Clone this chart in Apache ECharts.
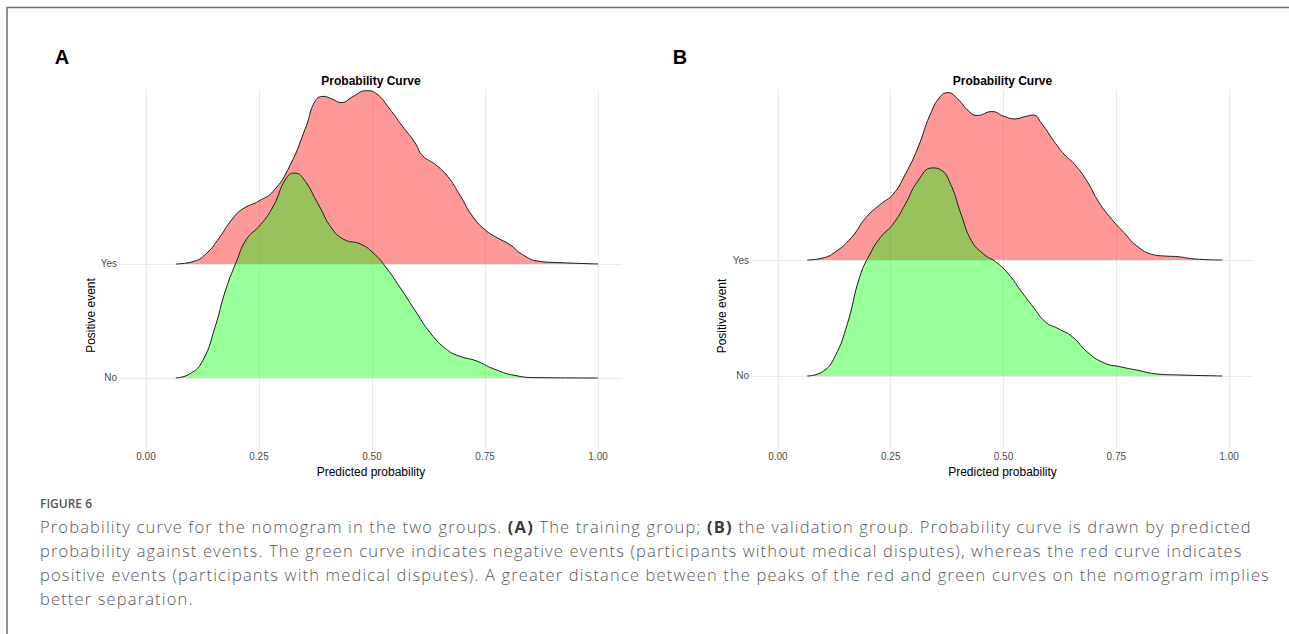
<!DOCTYPE html>
<html>
<head>
<meta charset="utf-8">
<script src="https://cdn.jsdelivr.net/npm/echarts@6/dist/echarts.min.js"></script>
<style>
  html, body { margin: 0; padding: 0; background: #ffffff; }
  #wrap { position: relative; width: 1289px; height: 634px; overflow: hidden; }
  #chart { position: absolute; left: 0; top: 0; width: 1289px; height: 634px; }
  #caption {
    position: absolute; left: 40px; top: 515px;
    font-family: 'Open Sans', 'Noto Sans', sans-serif;
    font-size: 16.5px; font-weight: 300; letter-spacing: 1.15px;
    line-height: 24px; color: #595959; white-space: nowrap;
  }
  #caption b { font-weight: 700; color: #3a3a3a; }
</style>
</head>
<body>
<div id="wrap">
  <div id="chart"></div>
  <div id="caption"></div>
</div>
<script>
// Ridge labels (bottom to top) and x tick positions
const groupNames = ['No', 'Yes'];
const xTicks = [0, 0.25, 0.5, 0.75, 1];

// Density heights [predicted probability, ridge height] — training group
const trainingYes = [
  [0.066, 0], [0.107, 0.024], [0.135, 0.097], [0.162, 0.229], [0.19, 0.39],
  [0.213, 0.48], [0.25, 0.553], [0.282, 0.64], [0.318, 0.86], [0.355, 1.215],
  [0.373, 1.42], [0.392, 1.47], [0.41, 1.45], [0.433, 1.415], [0.456, 1.465],
  [0.488, 1.52], [0.511, 1.49], [0.539, 1.36], [0.566, 1.215], [0.594, 1.07],
  [0.612, 0.95], [0.639, 0.876], [0.667, 0.77], [0.695, 0.6], [0.722, 0.42],
  [0.75, 0.30], [0.777, 0.23], [0.805, 0.17], [0.833, 0.082], [0.869, 0.024],
  [0.915, 0.012], [1.0, 0]
];
const trainingNo = [
  [0.066, 0], [0.098, 0.038], [0.126, 0.156], [0.153, 0.45], [0.176, 0.77],
  [0.199, 1.01], [0.222, 1.215], [0.254, 1.347], [0.282, 1.51], [0.309, 1.744],
  [0.328, 1.797], [0.346, 1.76], [0.383, 1.51], [0.41, 1.318], [0.438, 1.215],
  [0.474, 1.176], [0.502, 1.1], [0.529, 0.98], [0.566, 0.77], [0.594, 0.6],
  [0.63, 0.39], [0.667, 0.244], [0.695, 0.19], [0.731, 0.15], [0.768, 0.082],
  [0.814, 0.024], [0.869, 0.003], [1.0, 0]
];

// Density heights — validation group
const validationYes = [
  [0.065, 0], [0.099, 0.017], [0.126, 0.066], [0.163, 0.194], [0.195, 0.366],
  [0.227, 0.48], [0.255, 0.566], [0.282, 0.737], [0.31, 0.966], [0.337, 1.25],
  [0.36, 1.41], [0.378, 1.443], [0.397, 1.394], [0.424, 1.28], [0.442, 1.246],
  [0.474, 1.28], [0.502, 1.237], [0.525, 1.217], [0.548, 1.237], [0.566, 1.25],
  [0.584, 1.18], [0.612, 1.023], [0.635, 0.909], [0.658, 0.823], [0.685, 0.68],
  [0.712, 0.494], [0.74, 0.351], [0.767, 0.237], [0.795, 0.123], [0.832, 0.046],
  [0.859, 0.034], [0.886, 0.029], [0.923, 0.009], [0.985, 0]
];
const validationNo = [
  [0.065, 0], [0.099, 0.037], [0.126, 0.166], [0.154, 0.451], [0.181, 0.851],
  [0.204, 1.051], [0.227, 1.194], [0.255, 1.309], [0.282, 1.48], [0.31, 1.68],
  [0.342, 1.794], [0.36, 1.78], [0.383, 1.651], [0.406, 1.394], [0.429, 1.166],
  [0.456, 1.051], [0.484, 0.98], [0.511, 0.88], [0.538, 0.737], [0.566, 0.594],
  [0.593, 0.466], [0.621, 0.409], [0.653, 0.337], [0.685, 0.209], [0.722, 0.114],
  [0.758, 0.08], [0.795, 0.051], [0.841, 0.017], [0.886, 0.009], [0.985, 0]
];

const captionLines = [
  'Probability curve for the nomogram in the two groups. <b>(A)</b> The training group; <b>(B)</b> the validation group. Probability curve is drawn by predicted',
  'probability against events. The green curve indicates negative events (participants without medical disputes), whereas the red curve indicates',
  'positive events (participants with medical disputes). A greater distance between the peaks of the red and green curves on the nomogram implies',
  'better separation.'
];
document.getElementById('caption').innerHTML =
  captionLines.map(l => '<div>' + l + '</div>').join('');

const FONT = 'Liberation Sans, Arial, Helvetica, sans-serif';
const CAPFONT = 'Open Sans, Noto Sans, sans-serif';
const GRID_COLOR = '#ebebeb';

function ridge(points, base, fill, idx) {
  return {
    type: 'line',
    xAxisIndex: idx,
    yAxisIndex: idx,
    data: points.map(p => [p[0], base + p[1]]),
    smooth: 0.5,
    symbol: 'none',
    silent: true,
    lineStyle: { color: '#1a1a1a', width: 1 },
    areaStyle: { color: fill, opacity: 1, origin: base }
  };
}

function xAxisFor(idx) {
  return {
    type: 'value',
    gridIndex: idx,
    min: -0.0575,
    max: 1.053,
    name: 'Predicted probability',
    nameLocation: 'middle',
    nameGap: 18,
    nameTextStyle: { fontFamily: FONT, fontSize: 12, color: '#000' },
    axisLine: { show: false },
    axisTick: { show: false, customValues: xTicks },
    axisLabel: {
      customValues: xTicks,
      formatter: v => v.toFixed(2),
      fontFamily: FONT, fontSize: 10, color: '#4d4d4d', margin: 3
    },
    splitLine: { show: true, lineStyle: { color: GRID_COLOR, width: 1 } }
  };
}

function yAxisFor(idx, min, max) {
  return {
    type: 'value',
    gridIndex: idx,
    min: min,
    max: max,
    axisLine: { show: false },
    axisTick: { show: false, customValues: [1, 2] },
    axisLabel: {
      customValues: [1, 2],
      formatter: v => groupNames[Math.round(v) - 1],
      fontFamily: FONT, fontSize: 10, color: '#4d4d4d', margin: 3,
      verticalAlign: 'middle', padding: [0, 0, 6, 0]
    },
    splitLine: { show: true, lineStyle: { color: GRID_COLOR, width: 1 } }
  };
}

function label(text, x, y, size, weight, extra) {
  return Object.assign({
    type: 'text', x: x, y: y, silent: true,
    style: {
      text: text, fontFamily: FONT, fontSize: size, fontWeight: weight,
      fill: '#000', align: 'center', verticalAlign: 'middle'
    }
  }, extra || {});
}

const graphics = [
  { type: 'polyline', silent: true,
    shape: { points: [[7, 634], [7, 7.5], [1289, 7.5]] },
    style: { stroke: '#6e6e6e', lineWidth: 1.5, fill: null } },
  label('A', 62, 56.5, 20, 'bold'),
  label('B', 680, 56.5, 20, 'bold'),
  label('Probability Curve', 371, 80.5, 12, 'bold'),
  label('Probability Curve', 1002.5, 80.5, 12, 'bold'),
  label('Positive event', 90.5, 315.5, 12, 'normal', { rotation: Math.PI / 2 }),
  label('Positive event', 722, 316, 12, 'normal', { rotation: Math.PI / 2 }),
  { type: 'text', x: 40, y: 503, silent: true,
    style: { text: 'FIGURE 6', fontFamily: CAPFONT, fontSize: 12, fontWeight: 600,
             fill: '#555555', align: 'left', verticalAlign: 'middle' } }
];

const chart = echarts.init(document.getElementById('chart'), null, { renderer: 'svg' });
chart.setOption({
  animation: false,
  backgroundColor: '#ffffff',
  grid: [
    { left: 120, top: 90, width: 502, height: 358 },
    { left: 752, top: 90, width: 501, height: 358 }
  ],
  xAxis: [xAxisFor(0), xAxisFor(1)],
  yAxis: [yAxisFor(0, 0.386, 3.526), yAxisFor(1, 0.379, 3.466)],
  series: [
    ridge(trainingYes, 2, 'rgba(255,0,0,0.4)', 0),
    ridge(trainingNo, 1, 'rgba(0,255,0,0.4)', 0),
    ridge(validationYes, 2, 'rgba(255,0,0,0.4)', 1),
    ridge(validationNo, 1, 'rgba(0,255,0,0.4)', 1)
  ],
  graphic: graphics
});
</script>
</body>
</html>
